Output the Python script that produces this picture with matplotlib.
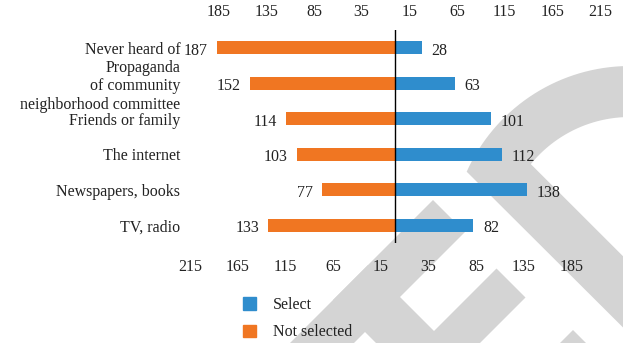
import matplotlib
matplotlib.use("Agg")
import matplotlib.pyplot as plt
import numpy as np
from matplotlib.patches import Polygon, Patch

plt.rcParams['font.family'] = ['Liberation Serif', 'DejaVu Serif']
plt.rcParams['font.size'] = 11.5

categories = ["Never heard of",
              "Propaganda\nof community\nneighborhood committee",
              "Friends or family",
              "The internet",
              "Newspapers, books",
              "TV, radio"]
select = [28, 63, 101, 112, 138, 82]
not_selected = [187, 152, 114, 103, 77, 133]

bottom_ticks = [-215, -165, -115, -65, -15, 35, 85, 135, 185]
top_ticks = [-185, -135, -85, -35, 15, 65, 115, 165, 215]

blue = '#2f8dcd'
orange = '#f07622'
ink = '#222222'
W, H = 623, 343

fig = plt.figure(figsize=(W / 100, H / 100), dpi=100)

# light grey background shapes, in pixel coords (y down)
bg = fig.add_axes([0, 0, 1, 1], zorder=0)
bg.set_xlim(0, W)
bg.set_ylim(H, 0)
bg.axis('off')
grey = '#d4d4d4'
cx, cy = 630, 245
t = np.radians(np.linspace(-155.8, 0, 80))
outer = np.c_[cx + 179 * np.cos(t), cy + 179 * np.sin(t)]
inner = np.c_[cx + 128 * np.cos(t), cy + 128 * np.sin(t)][::-1]
bg.add_patch(Polygon(np.vstack([outer, inner]), closed=True, fc=grey, ec='none'))
shapes = [
    [(466.7, 171.7), (526.7, 160), (817, 450), (746, 450)],
    [(433, 200), (465, 232), (297, 400), (233, 400)],
    [(333, 300), (368, 265), (463, 360), (428, 395)],
    [(496.5, 268.5), (525.5, 297.5), (403, 420), (345, 420)],
    [(573, 330), (605, 362), (547, 420), (483, 420)],
]
for pts in shapes:
    bg.add_patch(Polygon(pts, closed=True, fc=grey, ec='none'))

# main butterfly chart
ax = fig.add_axes([190 / W, 1 - 243 / H, 410 / W, 213 / H], zorder=1)
ax.set_facecolor('none')
y = np.arange(len(categories))
ax.barh(y, select, height=0.37, color=blue)
ax.barh(y, [-v for v in not_selected], height=0.37, color=orange)
ax.axvline(0, color='black', lw=1)

ax.set_xlim(-215, 215)
ax.set_ylim(len(categories) - 0.5, -0.5)

for yi, v in zip(y, select):
    ax.annotate(str(v), (v, yi), xytext=(7, -2), textcoords='offset points',
                ha='left', va='center', color=ink)
for yi, v in zip(y, not_selected):
    ax.annotate(str(v), (-v, yi), xytext=(-6.5, -2), textcoords='offset points',
                ha='right', va='center', color=ink)

ax.set_yticks(y)
ax.set_yticklabels(categories, color=ink, linespacing=1.2)
ax.set_xticks(bottom_ticks)
ax.set_xticklabels([str(abs(v)) for v in bottom_ticks], color=ink)
ax.tick_params(axis='y', length=0, pad=7)
ax.tick_params(axis='x', length=0, pad=11.5)
for s in ax.spines.values():
    s.set_visible(False)

top = ax.twiny()
top.set_facecolor('none')
top.set_xlim(ax.get_xlim())
top.set_xticks(top_ticks)
top.set_xticklabels([str(abs(v)) for v in top_ticks], color=ink)
top.tick_params(axis='x', length=0, pad=7)
for s in top.spines.values():
    s.set_visible(False)

handles = [Patch(color=blue), Patch(color=orange)]
leg = fig.legend(handles, ['Select', 'Not selected'], loc='upper left',
                 bbox_to_anchor=(243 / W, 1 - 297 / H), frameon=False,
                 borderpad=0, borderaxespad=0, handlelength=0.8,
                 handleheight=0.8, handletextpad=1.05, labelspacing=0.7)
for txt in leg.get_texts():
    txt.set_color(ink)

fig.savefig('out.png', dpi=100)
